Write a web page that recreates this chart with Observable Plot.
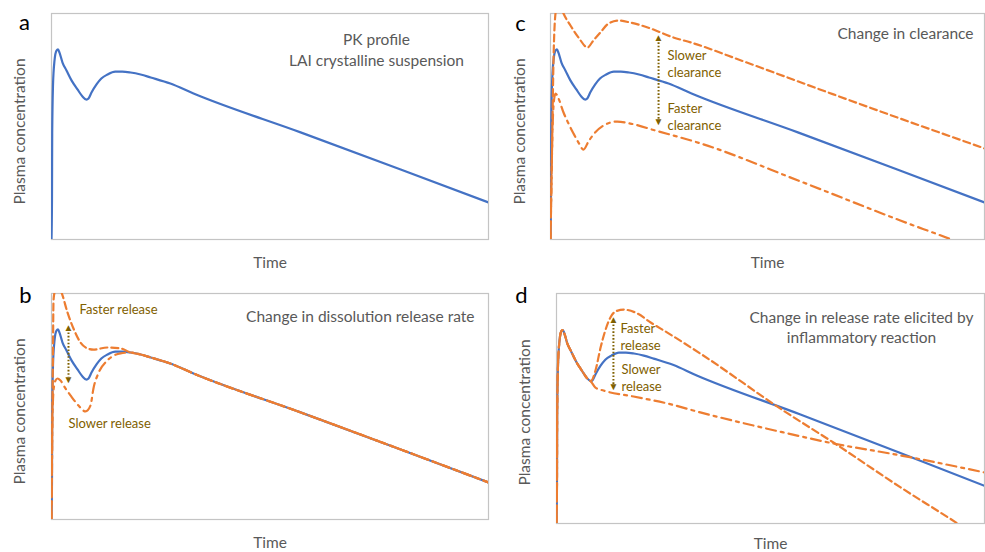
<!DOCTYPE html>
<html>
<head>
<meta charset="utf-8">
<script src="https://cdn.jsdelivr.net/npm/d3@7"></script>
<script src="https://cdn.jsdelivr.net/npm/@observablehq/plot@0.6"></script>
<style>
  body { margin: 0; background: #fff; }
  #chart { position: relative; width: 985px; height: 552px; overflow: hidden; background: #fff; }
  .panel { position: absolute; }
</style>
</head>
<body>
<div id="chart"></div>
<script>
// ---------------- DATA (time and concentration in arbitrary units, 0–100) ----------------
// Reference PK profile (blue, solid) – shared by all panels
const refTime = [0, 0.11, 0.16, 0.34, 0.69, 1.14, 1.49, 1.83, 2.52, 3.43, 4.58, 5.95, 7.09, 8.0, 8.47, 9.15, 10.3, 11.4, 12.8, 14.6, 16.2, 18.1, 20.4, 22.7, 27.2, 32.5, 57.0, 79.9, 100];
const refConc = [0, 17.3, 46.9, 68.1, 79.2, 83.6, 84.1, 82.7, 78.3, 74.8, 70.4, 66.4, 63.3, 61.9, 62.4, 65.0, 68.6, 71.2, 73.0, 74.3, 74.3, 73.9, 73.0, 71.7, 69.0, 64.6, 47.4, 31.0, 16.4];

// Panel b – change in dissolution release rate
const bFasterTime = [0, 0.11, 0.3, 0.46, 0.69, 1.37, 2.29, 3.66, 5.03, 6.64, 8.24, 9.6, 12.8, 15.8, 18.1, 20.4, 22.7, 27.2, 32.5, 57.0, 79.9, 100];
const bFasterConc = [0, 30.5, 65.9, 96.9, 100.4, 103.5, 100.4, 91.6, 84.5, 78.3, 75.7, 75.2, 76.1, 75.7, 73.9, 73.0, 71.7, 69.0, 64.6, 47.4, 31.0, 16.4];
const bSlowerTime = [0, 0.11, 0.23, 0.46, 0.92, 1.37, 2.06, 3.2, 4.35, 6.18, 7.78, 8.92, 9.6, 10.8, 12.8, 15.8, 18.1, 20.4, 22.7, 27.2, 32.5, 57.0, 79.9, 100];
const bSlowerConc = [0, 21.7, 43.8, 57.1, 61.5, 62.4, 61.5, 58.0, 54.9, 50.4, 47.8, 50.4, 58.0, 65.0, 70.4, 73.5, 73.9, 73.0, 71.7, 69.0, 64.6, 47.4, 31.0, 16.4];

// Panel c – change in clearance
const cSlowerTime = [0, 0.35, 0.69, 1.15, 1.84, 3.0, 4.6, 6.45, 8.53, 9.9, 11.5, 13.4, 15.7, 18.4, 23.0, 28.3, 32.3, 44.5, 65.2, 80.6, 100];
const cSlowerConc = [0, 39.4, 79.2, 100, 105.8, 100, 94.7, 89.4, 85.0, 88.1, 91.6, 95.6, 96.9, 96.0, 93.4, 89.4, 87.2, 78.8, 64.2, 53.5, 40.3];
const cFasterTime = [0, 0.23, 0.46, 0.8, 1.15, 1.84, 3.0, 4.15, 5.3, 6.45, 7.6, 8.76, 9.7, 12.2, 15.4, 18.4, 24.2, 34.6, 57.6, 80.6, 92.9, 100];
const cFasterConc = [0, 26.1, 48.2, 61.5, 64.6, 62.4, 56.2, 51.3, 46.9, 42.9, 39.8, 43.4, 46.0, 50.4, 52.2, 51.3, 48.2, 42.5, 25.7, 8.4, -0.4, -5.8];

// Panel d – change in release rate elicited by inflammatory reaction
const dFasterTime = [0, 0.11, 0.16, 0.34, 0.69, 1.14, 1.49, 1.83, 2.52, 3.43, 4.58, 5.95, 7.09, 8.0, 9.1, 10.3, 11.4, 12.6, 13.8, 15.7, 18.9, 22.0, 25.9, 33.6, 53.0, 64.7, 80.4, 93.7, 100];
const dFasterConc = [0, 17.3, 46.9, 68.1, 79.2, 83.6, 84.1, 82.7, 78.3, 74.8, 70.4, 66.4, 63.3, 61.9, 66.5, 76.5, 83.9, 89.6, 92.2, 93.0, 91.3, 87.4, 83.0, 73.9, 49.1, 35.2, 15.7, 0, -7.8];
const dSlowerTime = [0, 0.11, 0.16, 0.34, 0.69, 1.14, 1.49, 1.83, 2.52, 3.43, 4.58, 5.95, 7.09, 8.0, 9.1, 11.0, 18.0, 25.9, 33.6, 53.0, 64.7, 80.4, 100];
const dSlowerConc = [0, 17.3, 46.9, 68.1, 79.2, 83.6, 84.1, 82.7, 78.3, 74.8, 70.4, 66.4, 63.3, 61.9, 59.1, 57.8, 55.2, 52.2, 48.3, 39.6, 34.8, 29.6, 22.2];

// Double-headed annotation arrows (panels b, c, d)
const arrowTime   = [3.89, 24.9, 13.3];
const arrowTop    = [86.7, 91.2, 90.4];
const arrowBottom = [60.2, 50.4, 57.8];

// Texts
const panelLetters = ["a", "b", "c", "d"];
const yLabel = "Plasma concentration";
const xLabel = "Time";
const panelTitles = [
  "PK profile\nLAI crystalline suspension",
  "Change in dissolution release rate",
  "Change in clearance",
  "Change in release rate elicited by\ninflammatory reaction"
];
const arrowLabels = [
  ["Faster release", "Slower release"],
  ["Slower\nclearance", "Faster\nclearance"],
  ["Faster\nrelease", "Slower\nrelease"]
];

// ---------------- STYLE ----------------
const BLUE = "#4472C4", ORANGE = "#ED7D31", OLIVE = "#7F6000", GRAY = "#595959", FRAME = "#C4C4C4";
const FONT = "Lato, 'Open Sans', sans-serif";

const rows = (T, C) => T.map((t, i) => ({t, c: C[i]}));

function lineMark(T, C, stroke, dash) {
  return Plot.line(rows(T, C), {
    x: "t", y: "c", stroke, strokeWidth: 2.2,
    strokeDasharray: dash, curve: "monotone-x", clip: true
  });
}

function arrowMarks(k) {
  const a = [{t: arrowTime[k], top: arrowTop[k], bottom: arrowBottom[k]}];
  return [
    Plot.ruleX(a, {x: "t", y1: "top", y2: "bottom", stroke: OLIVE, strokeWidth: 2,
      strokeDasharray: "1.6,1.8", insetTop: 6, insetBottom: 6}),
    Plot.text(a, {x: "t", y: "top", text: () => "\u25B2", fill: OLIVE, fontSize: 10,
      textAnchor: "middle", lineAnchor: "middle", dy: 4}),
    Plot.text(a, {x: "t", y: "bottom", text: () => "\u25BC", fill: OLIVE, fontSize: 10,
      textAnchor: "middle", lineAnchor: "middle", dy: -4})
  ];
}

function txt(s, o) {
  return Plot.text([s], Object.assign({text: d => d, textAnchor: "middle", lineAnchor: "middle"}, o));
}

function commonMarks(i, L) {
  return [
    Plot.frame({stroke: FRAME, strokeWidth: 1.2}),
    txt(panelLetters[i], {frameAnchor: "top-left", dx: L.letter[0], dy: L.letter[1], fontSize: 22, fill: "#000"}),
    txt(yLabel, {frameAnchor: "left", rotate: -90, dx: L.ylab[0], dy: L.ylab[1], fontSize: 15.5, fill: GRAY}),
    txt(xLabel, {frameAnchor: "bottom", dx: L.xlab[0], dy: L.xlab[1], fontSize: 15.5, fill: GRAY})
  ];
}

const panels = [
  { // a
    left: 0, top: 0, width: 492, height: 276, margin: [13, 4, 37, 51],
    L: {letter: [-27, 9], ylab: [-31, 5], xlab: [0, 24]},
    marks: () => [
      lineMark(refTime, refConc, BLUE),
      txt(panelTitles[0], {frameAnchor: "top", dx: 106.5, dy: 35, fontSize: 15.5, fill: GRAY, lineHeight: 1.36})
    ]
  },
  { // b
    left: 0, top: 276, width: 492, height: 276, margin: [17, 4, 33, 51],
    L: {letter: [-26, 2], ylab: [-31, 5], xlab: [0, 24]},
    marks: () => [
      lineMark(refTime, refConc, BLUE),
      lineMark(bFasterTime, bFasterConc, ORANGE, "7,4"),
      lineMark(bSlowerTime, bSlowerConc, ORANGE, "10,5,3,5"),
      ...arrowMarks(0),
      txt(arrowLabels[0][0], {frameAnchor: "top-left", textAnchor: "start", dx: 28, dy: 16, fontSize: 13, fill: OLIVE}),
      txt(arrowLabels[0][1], {frameAnchor: "top-left", textAnchor: "start", dx: 17, dy: 130, fontSize: 13, fill: OLIVE}),
      txt(panelTitles[1], {frameAnchor: "top-right", textAnchor: "end", dx: -14, dy: 24, fontSize: 15.5, fill: GRAY})
    ]
  },
  { // c
    left: 495, top: 0, width: 490, height: 276, margin: [13, 1, 37, 55],
    L: {letter: [-30, 10], ylab: [-30, 5], xlab: [0, 24]},
    marks: () => [
      lineMark(refTime, refConc, BLUE),
      lineMark(cSlowerTime, cSlowerConc, ORANGE, "7,4"),
      lineMark(cFasterTime, cFasterConc, ORANGE, "10,5,3,5"),
      ...arrowMarks(1),
      txt(arrowLabels[1][0], {frameAnchor: "top-left", textAnchor: "start", dx: 117, dy: 49.5, fontSize: 13, fill: OLIVE, lineHeight: 1.3}),
      txt(arrowLabels[1][1], {frameAnchor: "top-left", textAnchor: "start", dx: 117, dy: 103, fontSize: 13, fill: OLIVE, lineHeight: 1.3}),
      txt(panelTitles[2], {frameAnchor: "top-right", textAnchor: "end", dx: -11, dy: 21, fontSize: 15.5, fill: GRAY})
    ]
  },
  { // d
    left: 495, top: 276, width: 490, height: 276, margin: [17, 1, 29, 61],
    L: {letter: [-35, 2], ylab: [-31, 4], xlab: [0, 21]},
    marks: () => [
      lineMark(refTime, refConc, BLUE),
      lineMark(dFasterTime, dFasterConc, ORANGE, "7,4"),
      lineMark(dSlowerTime, dSlowerConc, ORANGE, "10,5,3,5"),
      ...arrowMarks(2),
      txt(arrowLabels[2][0], {frameAnchor: "top-left", textAnchor: "start", dx: 64, dy: 42.5, fontSize: 13, fill: OLIVE, lineHeight: 1.3}),
      txt(arrowLabels[2][1], {frameAnchor: "top-left", textAnchor: "start", dx: 65, dy: 84, fontSize: 13, fill: OLIVE, lineHeight: 1.3}),
      txt(panelTitles[3], {frameAnchor: "top", dx: 91, dy: 33, fontSize: 15.5, fill: GRAY, lineHeight: 1.3})
    ]
  }
];

const chart = document.getElementById("chart");
panels.forEach((p, i) => {
  const [mt, mr, mb, ml] = p.margin;
  const svg = Plot.plot({
    width: p.width, height: p.height,
    marginTop: mt, marginRight: mr, marginBottom: mb, marginLeft: ml,
    x: {domain: [0, 100], axis: null},
    y: {domain: [0, 100], axis: null},
    style: {fontFamily: FONT, background: "transparent", overflow: "visible"},
    marks: [...commonMarks(i, p.L), ...p.marks()]
  });
  const div = document.createElement("div");
  div.className = "panel";
  div.style.left = p.left + "px";
  div.style.top = p.top + "px";
  div.appendChild(svg);
  chart.appendChild(div);
});
</script>
</body>
</html>
